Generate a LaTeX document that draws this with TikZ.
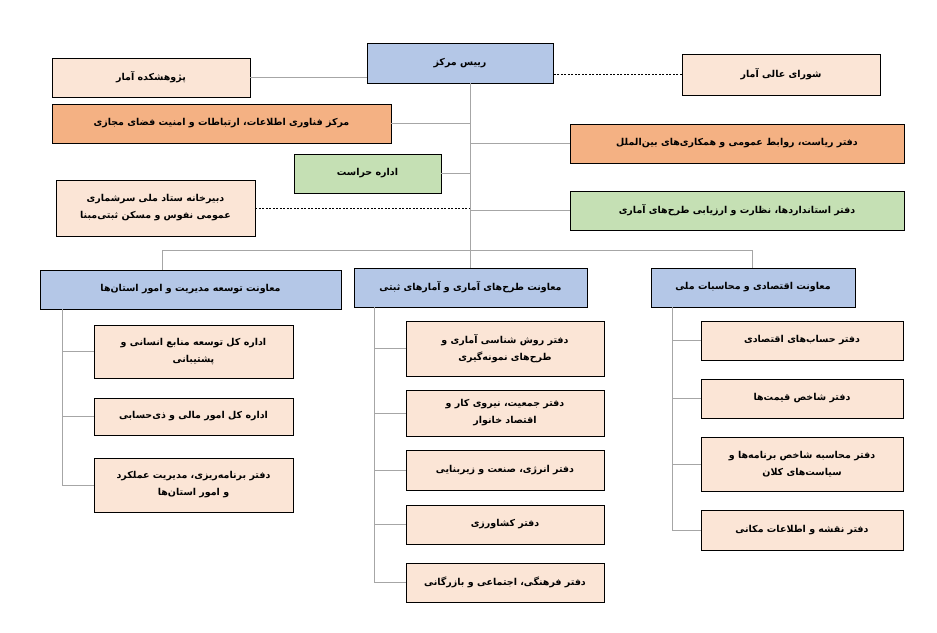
\documentclass[tikz,border=0pt]{standalone}
\usepackage{fontspec}
\usetikzlibrary{shadows}
\TeXXeTstate=1
\newfontfamily\arabicfont[Script=Arabic]{DejaVu Sans}
\newcommand\ar[1]{{\arabicfont\bfseries\beginR #1\endR}}
\definecolor{cpeach}{HTML}{FBE5D6}
\definecolor{corange}{HTML}{F4B183}
\definecolor{cgreen}{HTML}{C5E0B4}
\definecolor{cblue}{HTML}{B4C7E7}
\definecolor{cline}{HTML}{A6A6A6}
\newcommand\bx[7]{\pgfmathsetmacro\bw{#4-#2}\pgfmathsetmacro\bh{#5-#3}%
\node[box,fill=#6,minimum width=\bw pt,minimum height=\bh pt] (#1) at ({(#2+#4)/2},{(#3+#5)/2}) {#7};}
\begin{document}
\begin{tikzpicture}[x=1pt,y=-1pt,
 box/.style={draw=black,line width=0.9pt,inner sep=1pt,align=center,font=\fontsize{9.5}{17}\selectfont,
   drop shadow={shadow xshift=1.2pt,shadow yshift=-1.2pt,fill=gray,opacity=0.6}},
 link/.style={draw=cline,line width=0.9pt},
 dlink/.style={draw=black,line width=0.7pt,dashed,dash pattern=on 2pt off 1.5pt}]
\useasboundingbox (0,0) rectangle (937,632);
\bx{root}{367}{43}{553}{83}{cblue}{\ar{رییس مرکز}}
\bx{pj}{52}{58}{250}{97}{cpeach}{\ar{پژوهشکده آمار}}
\bx{fn}{52}{104}{391}{143}{corange}{\ar{مرکز فناوری اطلاعات، ارتباطات و امنیت فضای مجازی}}
\bx{hr}{294}{154}{441}{193}{cgreen}{\ar{اداره حراست}}
\bx{db}{56}{180}{255}{236}{cpeach}{\ar{دبیرخانه ستاد ملی سرشماری}\\\ar{عمومی نفوس و مسکن ثبتی‌مبنا}}
\bx{sh}{682}{54}{880}{95}{cpeach}{\ar{شورای عالی آمار}}
\bx{ry}{570}{124}{904}{163}{corange}{\ar{دفتر ریاست، روابط عمومی و همکاری‌های بین‌الملل}}
\bx{st}{570}{191}{904}{230}{cgreen}{\ar{دفتر استانداردها، نظارت و ارزیابی طرح‌های آماری}}
\bx{L}{40}{270}{341}{309}{cblue}{\ar{معاونت توسعه مدیریت و امور استان‌ها}}
\bx{M}{354}{268}{587}{307}{cblue}{\ar{معاونت طرح‌های آماری و آمارهای ثبتی}}
\bx{R}{651}{268}{855}{307}{cblue}{\ar{معاونت اقتصادی و محاسبات ملی}}
\bx{L1}{94}{325}{293}{378}{cpeach}{\ar{اداره کل توسعه منابع انسانی و}\\\ar{پشتیبانی}}
\bx{L2}{94}{398}{293}{435}{cpeach}{\ar{اداره کل امور مالی و ذی‌حسابی}}
\bx{L3}{94}{458}{293}{512}{cpeach}{\ar{دفتر برنامه‌ریزی، مدیریت عملکرد}\\\ar{و امور استان‌ها}}
\bx{M1}{406}{321}{604}{376}{cpeach}{\ar{دفتر روش شناسی آماری و}\\\ar{طرح‌های نمونه‌گیری}}
\bx{M2}{406}{390}{604}{436}{cpeach}{\ar{دفتر جمعیت، نیروی کار و}\\\ar{اقتصاد خانوار}}
\bx{M3}{406}{450}{604}{490}{cpeach}{\ar{دفتر انرژی، صنعت و زیربنایی}}
\bx{M4}{406}{505}{604}{544}{cpeach}{\ar{دفتر کشاورزی}}
\bx{M5}{406}{563}{604}{602}{cpeach}{\ar{دفتر فرهنگی، اجتماعی و بازرگانی}}
\bx{R1}{701}{321}{903}{360}{cpeach}{\ar{دفتر حساب‌های اقتصادی}}
\bx{R2}{701}{379}{903}{418}{cpeach}{\ar{دفتر شاخص قیمت‌ها}}
\bx{R3}{701}{437}{903}{491}{cpeach}{\ar{دفتر محاسبه شاخص برنامه‌ها و}\\\ar{سیاست‌های کلان}}
\bx{R4}{701}{510}{903}{550}{cpeach}{\ar{دفتر نقشه و اطلاعات مکانی}}
% coordinates
\coordinate (tb) at (470,250);
\coordinate (bl) at (162,250);
\coordinate (br) at (752,250);
\coordinate (lv) at (62,309);
\coordinate (mv) at (374,307);
\coordinate (rv) at (672,307);
\begin{scope}[on background layer/.style={}]
\path[link] (root.south -| tb) -- (tb);
\path[link] (pj.east) -- (pj.east -| root.west);
\path[link] (fn.east) -- (fn.east -| tb);
\path[link] (hr.east) -- (hr.east -| tb);
\path[dlink] (db.east) -- (db.east -| tb);
\path[dlink] (sh.west) -- (sh.west -| root.east);
\path[link] (ry.west) -- (ry.west -| tb);
\path[link] (st.west) -- (st.west -| tb);
\path[link] (bl) -- (br);
\path[link] (bl) -- (L.north -| bl);
\path[link] (tb) -- (M.north -| tb);
\path[link] (br) -- (R.north -| br);
\path[link] (lv) -- (L3.west -| lv);
\foreach \n in {L1,L2,L3} \path[link] (\n.west -| lv) -- (\n.west);
\path[link] (mv) -- (M5.west -| mv);
\foreach \n in {M1,M2,M3,M4,M5} \path[link] (\n.west -| mv) -- (\n.west);
\path[link] (rv) -- (R4.west -| rv);
\foreach \n in {R1,R2,R3,R4} \path[link] (\n.west -| rv) -- (\n.west);
\end{scope}
\end{tikzpicture}
\end{document}
